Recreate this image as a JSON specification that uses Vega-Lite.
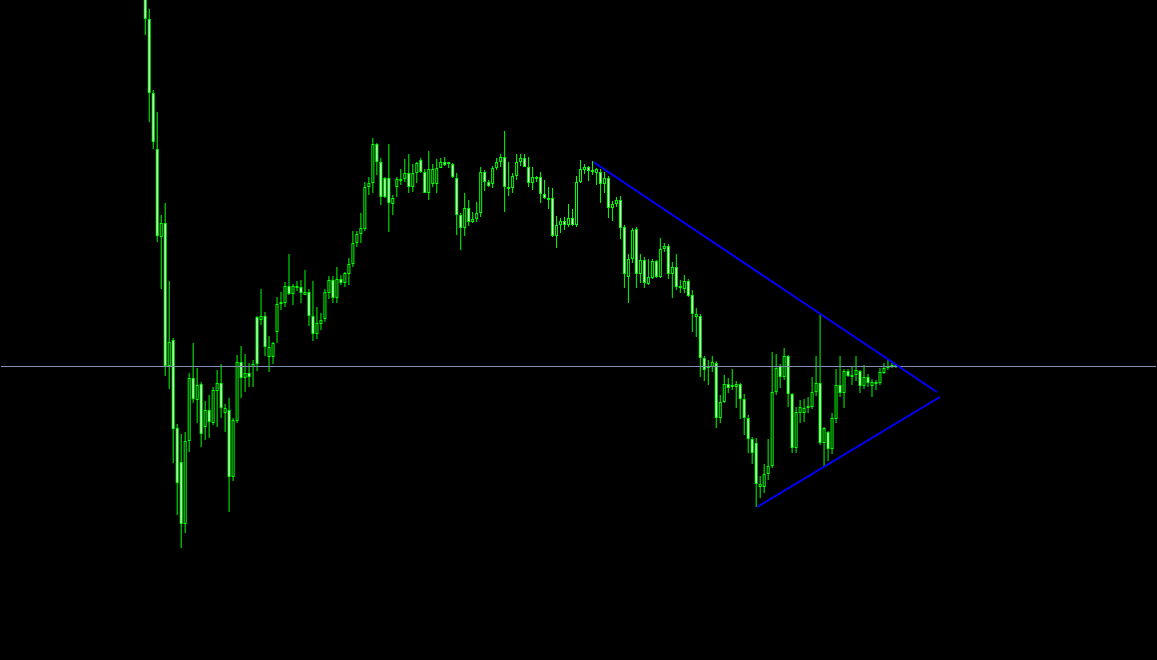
{
"$schema": "https://vega.github.io/schema/vega-lite/v6.json",
"width": 1157, "height": 660,
"autosize": {"type": "fit", "contains": "padding"},
"padding": 0,
"background": "#000000",
"config": {"view": {"stroke": null}, "scale": {"continuousPadding": 0}},
"datasets": {
"candles": [
{"i":0,"o":1.665,"h":1.670,"l":1.625,"c":1.641},
{"i":1,"o":1.641,"h":1.651,"l":1.538,"c":1.567},
{"i":2,"o":1.567,"h":1.570,"l":1.511,"c":1.518},
{"i":3,"o":1.511,"h":1.548,"l":1.418,"c":1.424},
{"i":4,"o":1.423,"h":1.445,"l":1.371,"c":1.437},
{"i":5,"o":1.437,"h":1.457,"l":1.284,"c":1.294},
{"i":6,"o":1.294,"h":1.379,"l":1.271,"c":1.318},
{"i":7,"o":1.320,"h":1.322,"l":1.197,"c":1.231},
{"i":8,"o":1.232,"h":1.236,"l":1.145,"c":1.177},
{"i":9,"o":1.198,"h":1.226,"l":1.112,"c":1.136},
{"i":10,"o":1.136,"h":1.228,"l":1.127,"c":1.219},
{"i":11,"o":1.219,"h":1.287,"l":1.208,"c":1.282},
{"i":12,"o":1.282,"h":1.317,"l":1.257,"c":1.261},
{"i":13,"o":1.260,"h":1.292,"l":1.237,"c":1.275},
{"i":14,"o":1.276,"h":1.278,"l":1.213,"c":1.226},
{"i":15,"o":1.233,"h":1.259,"l":1.220,"c":1.250},
{"i":16,"o":1.250,"h":1.265,"l":1.222,"c":1.238},
{"i":17,"o":1.237,"h":1.273,"l":1.235,"c":1.270},
{"i":18,"o":1.269,"h":1.290,"l":1.233,"c":1.277},
{"i":19,"o":1.277,"h":1.296,"l":1.242,"c":1.252},
{"i":20,"o":1.247,"h":1.256,"l":1.228,"c":1.252},
{"i":21,"o":1.250,"h":1.262,"l":1.148,"c":1.183},
{"i":22,"o":1.183,"h":1.242,"l":1.179,"c":1.240},
{"i":23,"o":1.239,"h":1.305,"l":1.237,"c":1.298},
{"i":24,"o":1.298,"h":1.314,"l":1.262,"c":1.282},
{"i":25,"o":1.282,"h":1.306,"l":1.268,"c":1.287},
{"i":26,"o":1.287,"h":1.297,"l":1.273,"c":1.283},
{"i":27,"o":1.293,"h":1.300,"l":1.273,"c":1.296},
{"i":28,"o":1.343,"h":1.344,"l":1.289,"c":1.296},
{"i":29,"o":1.340,"h":1.371,"l":1.335,"c":1.344},
{"i":30,"o":1.344,"h":1.348,"l":1.304,"c":1.313},
{"i":31,"o":1.303,"h":1.324,"l":1.288,"c":1.313},
{"i":32,"o":1.303,"h":1.318,"l":1.296,"c":1.317},
{"i":33,"o":1.328,"h":1.363,"l":1.317,"c":1.356},
{"i":34,"o":1.356,"h":1.368,"l":1.350,"c":1.358},
{"i":35,"o":1.357,"h":1.378,"l":1.353,"c":1.374},
{"i":36,"o":1.374,"h":1.406,"l":1.365,"c":1.366},
{"i":37,"o":1.366,"h":1.376,"l":1.355,"c":1.374},
{"i":38,"o":1.374,"h":1.379,"l":1.369,"c":1.372},
{"i":39,"o":1.373,"h":1.380,"l":1.357,"c":1.367},
{"i":40,"o":1.365,"h":1.390,"l":1.365,"c":1.368},
{"i":41,"o":1.368,"h":1.371,"l":1.334,"c":1.344},
{"i":42,"o":1.344,"h":1.379,"l":1.319,"c":1.326},
{"i":43,"o":1.326,"h":1.353,"l":1.321,"c":1.337},
{"i":44,"o":1.336,"h":1.347,"l":1.330,"c":1.340},
{"i":45,"o":1.341,"h":1.371,"l":1.338,"c":1.368},
{"i":46,"o":1.367,"h":1.384,"l":1.361,"c":1.380},
{"i":47,"o":1.380,"h":1.384,"l":1.357,"c":1.362},
{"i":48,"o":1.362,"h":1.393,"l":1.357,"c":1.381},
{"i":49,"o":1.381,"h":1.385,"l":1.375,"c":1.377},
{"i":50,"o":1.377,"h":1.388,"l":1.373,"c":1.387},
{"i":51,"o":1.386,"h":1.402,"l":1.375,"c":1.396},
{"i":52,"o":1.396,"h":1.429,"l":1.393,"c":1.417},
{"i":53,"o":1.417,"h":1.429,"l":1.413,"c":1.426},
{"i":54,"o":1.426,"h":1.447,"l":1.417,"c":1.432},
{"i":55,"o":1.431,"h":1.478,"l":1.429,"c":1.473},
{"i":56,"o":1.473,"h":1.483,"l":1.465,"c":1.477},
{"i":57,"o":1.477,"h":1.522,"l":1.467,"c":1.516},
{"i":58,"o":1.516,"h":1.517,"l":1.485,"c":1.498},
{"i":59,"o":1.498,"h":1.502,"l":1.455,"c":1.463},
{"i":60,"o":1.482,"h":1.483,"l":1.462,"c":1.463},
{"i":61,"o":1.482,"h":1.516,"l":1.428,"c":1.457},
{"i":62,"o":1.456,"h":1.465,"l":1.445,"c":1.462},
{"i":63,"o":1.473,"h":1.483,"l":1.463,"c":1.481},
{"i":64,"o":1.479,"h":1.491,"l":1.475,"c":1.481},
{"i":65,"o":1.481,"h":1.501,"l":1.478,"c":1.487},
{"i":66,"o":1.487,"h":1.506,"l":1.467,"c":1.473},
{"i":67,"o":1.473,"h":1.496,"l":1.468,"c":1.487},
{"i":68,"o":1.487,"h":1.498,"l":1.477,"c":1.497},
{"i":69,"o":1.500,"h":1.502,"l":1.487,"c":1.488},
{"i":70,"o":1.488,"h":1.491,"l":1.467,"c":1.467},
{"i":71,"o":1.467,"h":1.509,"l":1.460,"c":1.491},
{"i":72,"o":1.476,"h":1.496,"l":1.473,"c":1.491},
{"i":73,"o":1.476,"h":1.501,"l":1.467,"c":1.492},
{"i":74,"o":1.492,"h":1.502,"l":1.492,"c":1.498},
{"i":75,"o":1.498,"h":1.503,"l":1.494,"c":1.495},
{"i":76,"o":1.496,"h":1.498,"l":1.492,"c":1.498},
{"i":77,"o":1.496,"h":1.497,"l":1.482,"c":1.483},
{"i":78,"o":1.482,"h":1.487,"l":1.425,"c":1.445},
{"i":79,"o":1.445,"h":1.447,"l":1.410,"c":1.432},
{"i":80,"o":1.432,"h":1.467,"l":1.424,"c":1.452},
{"i":81,"o":1.452,"h":1.460,"l":1.434,"c":1.438},
{"i":82,"o":1.438,"h":1.448,"l":1.437,"c":1.441},
{"i":83,"o":1.441,"h":1.458,"l":1.438,"c":1.447},
{"i":84,"o":1.447,"h":1.493,"l":1.443,"c":1.488},
{"i":85,"o":1.488,"h":1.490,"l":1.469,"c":1.478},
{"i":86,"o":1.478,"h":1.480,"l":1.473,"c":1.474},
{"i":87,"o":1.476,"h":1.494,"l":1.472,"c":1.492},
{"i":88,"o":1.492,"h":1.502,"l":1.490,"c":1.498},
{"i":89,"o":1.498,"h":1.506,"l":1.493,"c":1.503},
{"i":90,"o":1.503,"h":1.529,"l":1.448,"c":1.473},
{"i":91,"o":1.471,"h":1.498,"l":1.464,"c":1.473},
{"i":92,"o":1.472,"h":1.487,"l":1.467,"c":1.484},
{"i":93,"o":1.484,"h":1.506,"l":1.480,"c":1.498},
{"i":94,"o":1.498,"h":1.506,"l":1.494,"c":1.502},
{"i":95,"o":1.502,"h":1.506,"l":1.493,"c":1.493},
{"i":96,"o":1.493,"h":1.503,"l":1.473,"c":1.477},
{"i":97,"o":1.477,"h":1.493,"l":1.470,"c":1.483},
{"i":98,"o":1.481,"h":1.484,"l":1.478,"c":1.483},
{"i":99,"o":1.483,"h":1.488,"l":1.457,"c":1.466},
{"i":100,"o":1.466,"h":1.480,"l":1.461,"c":1.462},
{"i":101,"o":1.462,"h":1.473,"l":1.451,"c":1.460},
{"i":102,"o":1.462,"h":1.472,"l":1.423,"c":1.424},
{"i":103,"o":1.424,"h":1.444,"l":1.412,"c":1.435},
{"i":104,"o":1.435,"h":1.442,"l":1.427,"c":1.439},
{"i":105,"o":1.439,"h":1.443,"l":1.430,"c":1.435},
{"i":106,"o":1.435,"h":1.456,"l":1.433,"c":1.442},
{"i":107,"o":1.442,"h":1.451,"l":1.434,"c":1.435},
{"i":108,"o":1.435,"h":1.484,"l":1.433,"c":1.478},
{"i":109,"o":1.478,"h":1.500,"l":1.477,"c":1.491},
{"i":110,"o":1.490,"h":1.496,"l":1.486,"c":1.493},
{"i":111,"o":1.493,"h":1.494,"l":1.479,"c":1.489},
{"i":112,"o":1.488,"h":1.499,"l":1.485,"c":1.490},
{"i":113,"o":1.487,"h":1.492,"l":1.475,"c":1.491},
{"i":114,"o":1.488,"h":1.491,"l":1.457,"c":1.476},
{"i":115,"o":1.476,"h":1.488,"l":1.467,"c":1.482},
{"i":116,"o":1.482,"h":1.484,"l":1.442,"c":1.452},
{"i":117,"o":1.452,"h":1.459,"l":1.439,"c":1.456},
{"i":118,"o":1.456,"h":1.463,"l":1.453,"c":1.460},
{"i":119,"o":1.460,"h":1.464,"l":1.421,"c":1.432},
{"i":120,"o":1.433,"h":1.435,"l":1.372,"c":1.386},
{"i":121,"o":1.383,"h":1.406,"l":1.357,"c":1.401},
{"i":122,"o":1.401,"h":1.432,"l":1.397,"c":1.430},
{"i":123,"o":1.431,"h":1.433,"l":1.372,"c":1.386},
{"i":124,"o":1.386,"h":1.406,"l":1.377,"c":1.400},
{"i":125,"o":1.400,"h":1.403,"l":1.372,"c":1.377},
{"i":126,"o":1.376,"h":1.401,"l":1.375,"c":1.383},
{"i":127,"o":1.382,"h":1.401,"l":1.381,"c":1.399},
{"i":128,"o":1.399,"h":1.400,"l":1.382,"c":1.383},
{"i":129,"o":1.383,"h":1.422,"l":1.382,"c":1.411},
{"i":130,"o":1.411,"h":1.417,"l":1.408,"c":1.414},
{"i":131,"o":1.414,"h":1.416,"l":1.381,"c":1.386},
{"i":132,"o":1.386,"h":1.398,"l":1.362,"c":1.393},
{"i":133,"o":1.393,"h":1.406,"l":1.370,"c":1.373},
{"i":134,"o":1.372,"h":1.380,"l":1.367,"c":1.374},
{"i":135,"o":1.371,"h":1.385,"l":1.367,"c":1.379},
{"i":136,"o":1.379,"h":1.381,"l":1.363,"c":1.364},
{"i":137,"o":1.365,"h":1.370,"l":1.328,"c":1.346},
{"i":138,"o":1.343,"h":1.352,"l":1.323,"c":1.346},
{"i":139,"o":1.344,"h":1.346,"l":1.283,"c":1.302},
{"i":140,"o":1.302,"h":1.304,"l":1.279,"c":1.290},
{"i":141,"o":1.292,"h":1.300,"l":1.275,"c":1.294},
{"i":142,"o":1.293,"h":1.304,"l":1.288,"c":1.298},
{"i":143,"o":1.297,"h":1.299,"l":1.232,"c":1.242},
{"i":144,"o":1.242,"h":1.265,"l":1.237,"c":1.258},
{"i":145,"o":1.258,"h":1.285,"l":1.257,"c":1.276},
{"i":146,"o":1.276,"h":1.282,"l":1.267,"c":1.272},
{"i":147,"o":1.273,"h":1.291,"l":1.270,"c":1.275},
{"i":148,"o":1.273,"h":1.279,"l":1.252,"c":1.276},
{"i":149,"o":1.276,"h":1.277,"l":1.241,"c":1.261},
{"i":150,"o":1.261,"h":1.266,"l":1.225,"c":1.242},
{"i":151,"o":1.242,"h":1.245,"l":1.207,"c":1.221},
{"i":152,"o":1.221,"h":1.223,"l":1.196,"c":1.207},
{"i":153,"o":1.217,"h":1.222,"l":1.153,"c":1.176},
{"i":154,"o":1.173,"h":1.184,"l":1.162,"c":1.176},
{"i":155,"o":1.173,"h":1.196,"l":1.167,"c":1.186},
{"i":156,"o":1.186,"h":1.221,"l":1.180,"c":1.194},
{"i":157,"o":1.194,"h":1.308,"l":1.192,"c":1.268},
{"i":158,"o":1.268,"h":1.306,"l":1.265,"c":1.292},
{"i":159,"o":1.294,"h":1.296,"l":1.272,"c":1.283},
{"i":160,"o":1.283,"h":1.312,"l":1.280,"c":1.304},
{"i":161,"o":1.304,"h":1.305,"l":1.253,"c":1.266},
{"i":162,"o":1.266,"h":1.267,"l":1.207,"c":1.212},
{"i":163,"o":1.212,"h":1.253,"l":1.207,"c":1.248},
{"i":164,"o":1.247,"h":1.260,"l":1.237,"c":1.253},
{"i":165,"o":1.247,"h":1.261,"l":1.238,"c":1.252},
{"i":166,"o":1.252,"h":1.263,"l":1.247,"c":1.254},
{"i":167,"o":1.253,"h":1.283,"l":1.251,"c":1.268},
{"i":168,"o":1.268,"h":1.304,"l":1.264,"c":1.277},
{"i":169,"o":1.277,"h":1.345,"l":1.215,"c":1.217},
{"i":170,"o":1.217,"h":1.233,"l":1.193,"c":1.232},
{"i":171,"o":1.228,"h":1.229,"l":1.199,"c":1.211},
{"i":172,"o":1.211,"h":1.247,"l":1.206,"c":1.242},
{"i":173,"o":1.241,"h":1.291,"l":1.237,"c":1.275},
{"i":174,"o":1.275,"h":1.304,"l":1.263,"c":1.267},
{"i":175,"o":1.267,"h":1.291,"l":1.252,"c":1.289},
{"i":176,"o":1.289,"h":1.291,"l":1.283,"c":1.284},
{"i":177,"o":1.283,"h":1.293,"l":1.275,"c":1.285},
{"i":178,"o":1.285,"h":1.304,"l":1.279,"c":1.290},
{"i":179,"o":1.289,"h":1.290,"l":1.267,"c":1.274},
{"i":180,"o":1.274,"h":1.295,"l":1.271,"c":1.283},
{"i":181,"o":1.283,"h":1.286,"l":1.273,"c":1.277},
{"i":182,"o":1.274,"h":1.281,"l":1.263,"c":1.278},
{"i":183,"o":1.276,"h":1.280,"l":1.270,"c":1.278},
{"i":184,"o":1.277,"h":1.292,"l":1.275,"c":1.288},
{"i":185,"o":1.287,"h":1.297,"l":1.286,"c":1.292},
{"i":186,"o":1.292,"h":1.300,"l":1.290,"c":1.294},
{"i":187,"o":1.293,"h":1.297,"l":1.292,"c":1.295},
{"i":188,"o":1.293,"h":1.296,"l":1.292,"c":1.295}
],
"trend": [
{"seg":"upper","i":112.25,"p":1.498},
{"seg":"upper","i":198.25,"p":1.268},
{"seg":"lower","i":153.25,"p":1.153},
{"seg":"lower","i":199,"p":1.263}
],
"level": [{"p":1.2935}]
},
"layer": [
{
"data": {"name": "candles"},
"mark": {"type": "rule", "color": "#00ff00", "strokeWidth": 1, "clip": true},
"encoding": {
"x": {"field": "i", "type": "quantitative", "scale": {"domain": [-36.125, 253.125], "nice": false, "zero": false, "padding": 0}, "axis": null},
"y": {"field": "l", "type": "quantitative", "scale": {"domain": [1.0, 1.66], "nice": false, "zero": false}, "axis": null},
"y2": {"field": "h"}
}
},
{
"data": {"name": "candles"},
"mark": {"type": "rule", "color": "#00ff00", "strokeWidth": 3, "strokeCap": "butt", "clip": true},
"encoding": {
"x": {"field": "i", "type": "quantitative", "scale": {"domain": [-36.125, 253.125], "nice": false, "zero": false, "padding": 0}, "axis": null},
"y": {"field": "o", "type": "quantitative", "scale": {"domain": [1.0, 1.66], "nice": false, "zero": false}, "axis": null},
"y2": {"field": "c"}
}
},
{
"data": {"name": "candles"},
"transform": [{"filter": "datum.c < datum.o"}],
"mark": {"type": "rule", "color": "#ffffff", "strokeWidth": 1, "strokeCap": "butt", "yOffset": 1, "y2Offset": -1, "clip": true},
"encoding": {
"x": {"field": "i", "type": "quantitative", "scale": {"domain": [-36.125, 253.125], "nice": false, "zero": false, "padding": 0}, "axis": null},
"y": {"field": "o", "type": "quantitative", "scale": {"domain": [1.0, 1.66], "nice": false, "zero": false}, "axis": null},
"y2": {"field": "c"}
}
},
{
"data": {"name": "candles"},
"transform": [{"filter": "datum.c >= datum.o"}],
"mark": {"type": "rule", "color": "#000000", "strokeWidth": 1, "strokeCap": "butt", "yOffset": 1, "y2Offset": -1, "clip": true},
"encoding": {
"x": {"field": "i", "type": "quantitative", "scale": {"domain": [-36.125, 253.125], "nice": false, "zero": false, "padding": 0}, "axis": null},
"y": {"field": "c", "type": "quantitative", "scale": {"domain": [1.0, 1.66], "nice": false, "zero": false}, "axis": null},
"y2": {"field": "o"}
}
},
{
"data": {"name": "level"},
"mark": {"type": "rule", "color": "#7f90ad", "strokeWidth": 1},
"encoding": {
"y": {"field": "p", "type": "quantitative", "scale": {"domain": [1.0, 1.66], "nice": false, "zero": false}, "axis": null}
}
},
{
"data": {"name": "trend"},
"mark": {"type": "line", "color": "#0000ff", "strokeWidth": 2, "clip": true},
"encoding": {
"x": {"field": "i", "type": "quantitative", "scale": {"domain": [-36.125, 253.125], "nice": false, "zero": false, "padding": 0}, "axis": null},
"y": {"field": "p", "type": "quantitative", "scale": {"domain": [1.0, 1.66], "nice": false, "zero": false}, "axis": null},
"detail": {"field": "seg", "type": "nominal"}
}
}
]
}
